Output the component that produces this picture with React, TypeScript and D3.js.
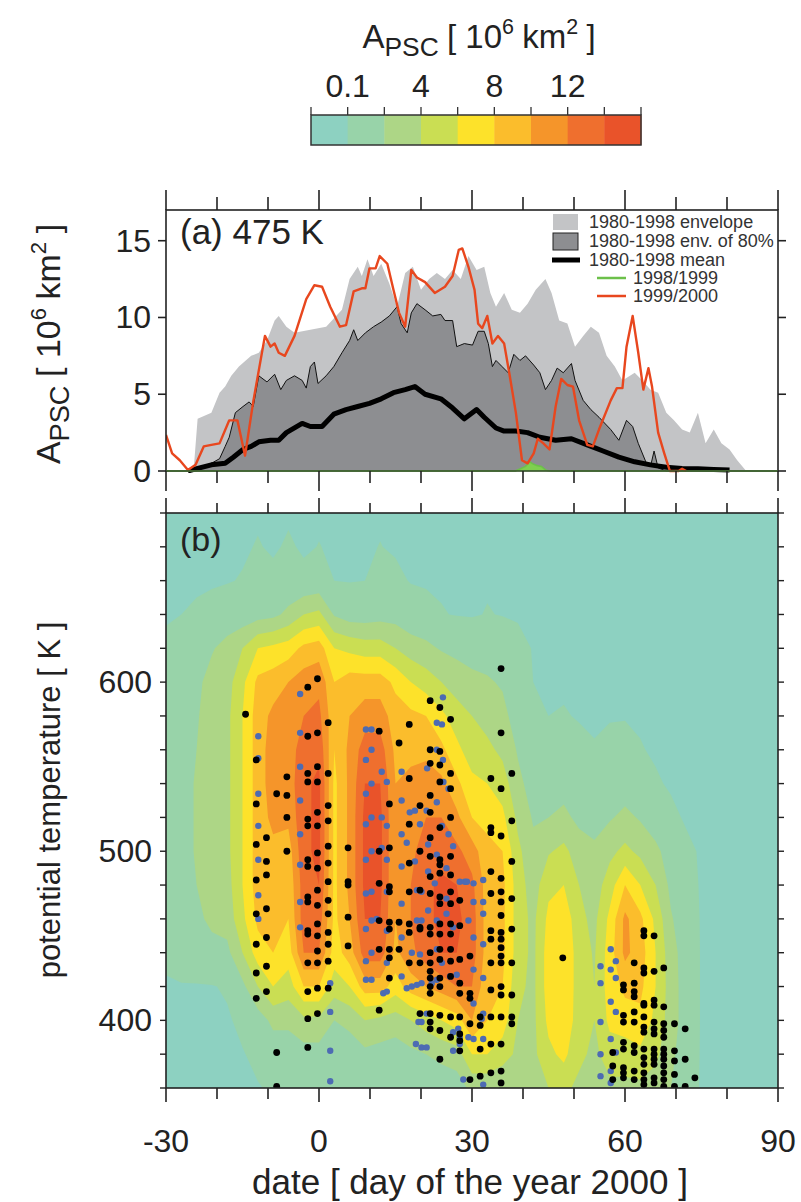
import * as d3 from 'd3';

const FONT = 'Liberation Sans, Arial, Helvetica, sans-serif';

// colour bar (A_PSC classes, 10^6 km^2)
const cbColors = ['#8dd1c1', '#98d3a9', '#add686', '#cade53', '#fde22a', '#fbbd2c', '#f5952a', '#ef6f2e', '#e9532a'];
const cbLevels = [0.1, 2, 4, 6, 8, 10, 12, 14];
const cbTickLabels = ['', '0.1', '', '4', '', '8', '', '12', '', ''];

// axes
const dayTicks = [-30, -20, -10, 0, 10, 20, 30, 40, 50, 60, 70, 80, 90];
const dayLabels = [-30, 0, 30, 60, 90];
const apscTicks = [0, 5, 10, 15];
const thetaTicks = [360, 380, 400, 420, 440, 460, 480, 500, 520, 540, 560, 580, 600, 620, 640, 660, 680, 700];
const thetaLabels = [400, 500, 600];

// panel (a) 475 K : [day, A_PSC]
const envelope = [[-30, 0], [-24.6, 0], [-23.8, 3.4], [-21.1, 3.8], [-19.5, 5.1], [-18.4, 5.5], [-17.2, 6.2], [-15.7, 6.8], [-13.3, 7.5], [-11.8, 7.7], [-10.2, 8.5], [-8.7, 9.8], [-7.9, 10.1], [-6.4, 9.4], [-4.8, 9.0], [-1.7, 9.2], [1.4, 9.4], [4.5, 10.5], [6.0, 12.5], [7.6, 13.3], [8.4, 12.7], [9.5, 13.8], [10.7, 12.7], [12.2, 13.5], [13.8, 12.2], [15.3, 10.7], [16.9, 12.9], [18.4, 13.3], [20.0, 11.8], [21.6, 12.5], [23.1, 12.9], [24.7, 12.5], [26.2, 13.1], [27.8, 12.5], [29.3, 14.0], [30.9, 13.1], [32.4, 13.3], [33.6, 11.6], [34.7, 10.7], [36.3, 11.6], [37.8, 10.5], [39.4, 10.3], [40.9, 10.9], [42.5, 11.8], [44.4, 12.5], [45.6, 11.6], [47.1, 9.8], [48.7, 9.6], [50.2, 8.1], [51.8, 8.8], [53.3, 9.4], [54.9, 9.0], [56.4, 7.5], [58.0, 6.8], [59.5, 5.9], [61.9, 6.4], [63.4, 5.9], [65.0, 5.3], [66.5, 5.1], [68.1, 3.8], [69.6, 3.3], [71.2, 2.7], [72.7, 2.5], [74.3, 3.8], [75.8, 1.8], [77.4, 2.7], [78.9, 1.8], [80.5, 1.4], [82.0, 0.7], [83.6, 0.07], [84.3, 0], [90, 0]];
const envelope80 = [[-30, 0], [-24.5, 0], [-23.4, 0.2], [-21.1, 0.5], [-19.5, 0.8], [-18.4, 1.6], [-17.6, 2.2], [-16.4, 3.8], [-14.9, 4.2], [-13.7, 4.5], [-12.9, 4.2], [-11.8, 6.2], [-10.2, 5.8], [-8.7, 6.3], [-7.5, 5.3], [-6.4, 5.9], [-4.8, 6.2], [-3.3, 5.9], [-2.5, 5.4], [-1.7, 6.8], [-0.9, 7.1], [-0.2, 5.7], [1.4, 6.2], [2.9, 6.8], [4.5, 7.7], [6.0, 8.5], [6.8, 9.2], [7.6, 8.5], [9.1, 9.0], [10.7, 9.4], [12.2, 9.7], [13.8, 10.1], [15.3, 10.7], [16.1, 9.6], [17.3, 9.0], [18.1, 10.3], [19.2, 10.9], [20.8, 10.5], [22.3, 10.1], [23.9, 10.2], [24.7, 9.8], [26.2, 9.8], [27.0, 8.1], [28.5, 8.3], [30.1, 8.2], [31.2, 9.1], [32.4, 9.1], [33.2, 8.3], [34.0, 6.8], [34.7, 7.2], [35.9, 6.8], [37.1, 6.4], [38.2, 7.6], [39.4, 7.2], [40.5, 7.5], [42.1, 6.9], [43.3, 6.4], [44.4, 5.3], [45.6, 5.9], [46.7, 6.7], [47.9, 6.4], [49.5, 7.0], [50.2, 5.9], [51.8, 4.6], [53.3, 4.0], [54.9, 3.5], [57.2, 2.7], [58.8, 2.0], [60.3, 3.3], [61.5, 2.9], [62.6, 1.8], [64.2, 0.5], [65.0, 0.3], [65.7, 1.3], [66.5, 0.2], [68.1, 0], [90, 0]];
const mean8098 = [[-25.7, 0], [-23.4, 0.2], [-21.1, 0.4], [-18.4, 0.5], [-16.8, 0.9], [-14.9, 1.4], [-13.3, 1.6], [-11.8, 1.9], [-9.5, 2.0], [-7.9, 2.0], [-6.4, 2.5], [-3.3, 3.1], [-1.7, 2.9], [0.6, 2.9], [2.9, 3.7], [5.3, 4.0], [7.6, 4.2], [9.9, 4.4], [12.2, 4.7], [14.6, 5.1], [16.9, 5.3], [18.8, 5.5], [20.8, 5.0], [23.9, 4.7], [26.2, 4.1], [28.5, 3.4], [30.9, 4.0], [32.4, 3.5], [34.7, 2.8], [36.3, 2.6], [38.6, 2.6], [40.9, 2.5], [43.3, 2.2], [46.4, 2.0], [49.5, 2.1], [52.6, 1.7], [55.7, 1.3], [58.8, 0.9], [61.9, 0.6], [65.0, 0.4], [68.1, 0.24], [71.2, 0.17], [74.3, 0.15], [77.4, 0.1], [80.5, 0.07]];
const winter9899 = [[-30, 0], [38.5, 0], [39.5, 0.15], [40.5, 0.3], [41.3, 0.6], [42, 0.45], [42.8, 0.35], [43.6, 0.3], [44.5, 0.05], [45.5, 0], [90, 0]];
const winter9900 = [[-30, 2.35], [-28.8, 1.15], [-27.3, 0.7], [-25.7, 0.07], [-24.2, 0.4], [-22.6, 1.6], [-21.1, 1.7], [-19.5, 1.8], [-17.6, 3.3], [-16.0, 3.3], [-14.5, 1.0], [-12.9, 4.5], [-10.6, 8.8], [-9.5, 8.1], [-8.7, 8.3], [-7.9, 7.7], [-6.7, 7.5], [-4.8, 8.8], [-2.5, 11.2], [-0.9, 12.1], [0.6, 12.0], [2.2, 10.7], [4.1, 9.4], [5.3, 9.5], [6.8, 11.7], [8.4, 11.9], [9.1, 11.9], [9.9, 13.2], [11.1, 13.2], [11.9, 14.0], [13.4, 13.5], [14.6, 11.8], [15.7, 10.3], [16.9, 9.4], [18.1, 13.1], [19.2, 12.6], [20.8, 12.3], [22.7, 11.6], [24.7, 12.0], [26.2, 12.7], [27.4, 14.4], [28.1, 14.5], [29.3, 13.3], [30.5, 11.8], [31.2, 9.6], [32.0, 9.3], [33.0, 10.1], [34.0, 8.3], [35.1, 8.8], [36.3, 8.3], [37.4, 6.2], [38.6, 3.8], [39.8, 0.7], [40.9, 0.5], [42.1, 1.15], [42.9, 2.1], [44.0, 1.8], [45.2, 1.4], [46.4, 4.2], [47.5, 6.0], [48.7, 5.6], [49.8, 5.5], [51.0, 3.3], [52.6, 1.7], [53.7, 1.6], [54.9, 2.7], [57.2, 4.6], [58.4, 5.4], [59.5, 5.4], [60.3, 8.1], [61.5, 10.1], [62.6, 7.7], [63.6, 5.3], [64.6, 6.7], [65.3, 5.5], [66.5, 2.5], [67.7, 1.15], [68.8, 0], [70.5, 0], [71.2, 0.15], [72, 0]];

// panel (b) : A_PSC field, one profile per day, theta from 700 K down to 360 K
const gridDays = [-30, -27, -24, -21, -18, -15, -12, -9, -6, -3, 0, 3, 6, 9, 12, 15, 18, 21, 24, 27, 30, 33, 36, 39, 42, 45, 48, 51, 54, 57, 60, 63, 66, 69, 72, 75, 78, 81, 84, 87, 90];
const gridThetas = [700, 680, 660, 640, 620, 600, 580, 560, 540, 520, 500, 480, 460, 440, 420, 400, 380, 360];
const apscByDay = [
  [0, 0, 0, 0.05, 0.2, 0.4, 0.5, 0.6, 0.8, 1, 1, 1, 0.8, 0.3, 0, 0, 0, 0],
  [0, 0, 0, 0.1, 0.5, 0.9, 1, 1, 1.2, 1.2, 1.2, 1.2, 1, 0.5, 0.05, 0, 0, 0],
  [0, 0, 0, 0.2, 1, 1.5, 1.8, 2, 2.2, 2.2, 2.2, 2, 1.5, 0.6, 0.05, 0, 0, 0],
  [0, 0, 0, 0.4, 1.8, 2.8, 3, 3, 3, 3, 3, 3, 2.5, 1.2, 0.05, 0, 0, 0],
  [0, 0, 0.05, 0.6, 2.8, 3.2, 3.5, 3.5, 3.5, 3.5, 3.5, 3.2, 2.8, 1.5, 0.2, 0, 0, 0],
  [0, 0, 0.15, 0.8, 4, 5.5, 6, 6, 6, 6, 6, 6, 5.5, 4, 1.5, 0.3, 0.05, 0],
  [0, 0.15, 0.4, 1.2, 6, 8.5, 9, 9, 9, 9, 9, 9, 8.5, 7, 4, 1, 0.3, 0.05],
  [0, 0, 0.3, 1.5, 6.5, 9, 10.5, 11, 11, 10.5, 9.5, 9, 8.5, 8, 6, 2.5, 0.8, 0.2],
  [0, 0.2, 0.5, 2.5, 7, 10, 11, 11, 11, 10.5, 9, 8.5, 8, 7, 5, 2.5, 0.8, 0.2],
  [0, 0, 0.3, 4, 8.5, 11, 12, 13, 13.5, 13.5, 13.5, 13, 13, 12, 8, 3.5, 1.2, 0.4],
  [0, 0.12, 0.5, 4.5, 9, 11.5, 12.5, 13.5, 14.5, 14.5, 14.5, 14, 13, 12, 8, 3.5, 1.2, 0.5],
  [0, 0, 0.1, 1.8, 6, 8, 8.5, 8, 7.5, 7.5, 7.5, 7.5, 7.5, 7, 5, 2, 0.8, 0.3],
  [0, 0, 0.05, 1, 5.5, 9, 10, 10.5, 10.5, 10.5, 10.5, 10.5, 10, 9, 6, 2.5, 1, 0.3],
  [0, 0, 0.1, 1, 5, 9, 11, 13, 14, 14.5, 14.5, 14.5, 14, 13, 9, 4, 1.5, 0.5],
  [0, 0.12, 0.3, 1.2, 5, 9, 11, 13, 14, 14.5, 14.5, 14.5, 14, 13, 9, 3.5, 1.2, 0.4],
  [0, 0, 0.3, 1.2, 4, 7.5, 9, 9.5, 10, 10, 10, 10, 10, 9.5, 7, 3, 1, 0.3],
  [0, 0, 0.05, 0.6, 3, 6, 8.5, 9.5, 10.5, 11, 11.5, 12, 12, 11.5, 9, 4, 1.5, 0.5],
  [0, 0, 0, 0.4, 2.5, 5, 8, 9.5, 11, 12, 13, 13.5, 13.5, 13, 10, 5, 2, 0.6],
  [0, 0, 0, 0.15, 1.8, 4, 6.5, 8.5, 10.5, 12, 13, 14.5, 14.5, 14, 11, 6, 2.5, 0.8],
  [0, 0, 0, 0.05, 1.5, 3, 5, 6.5, 8.5, 10.5, 12.5, 14, 14.5, 14, 12, 7, 3, 1],
  [0, 0, 0, 0, 1.2, 2.5, 4, 5, 6.5, 8, 11, 12.5, 13, 13, 12, 10, 6, 2.5],
  [0, 0, 0, 0.15, 1.2, 2.2, 3.2, 4.5, 6, 7.5, 8.5, 9, 9, 9, 8.5, 8, 6, 2.5],
  [0, 0, 0, 0.05, 1, 1.8, 2.5, 3.5, 5, 6.5, 8, 8.5, 8.5, 8.5, 8, 7, 5, 2],
  [0, 0, 0, 0, 0.4, 0.6, 1.2, 1.8, 2.5, 3.5, 4.5, 5, 5, 5, 4.5, 4, 3.5, 2.5],
  [0, 0, 0, 0, 0.05, 0.1, 0.3, 0.6, 1.2, 1.8, 2.5, 3, 3.5, 3.5, 3.5, 3.5, 3.5, 3],
  [0, 0, 0, 0, 0, 0, 0.1, 0.4, 1, 2, 3.8, 5.5, 6.5, 7, 7, 6.5, 5.5, 4],
  [0, 0, 0, 0, 0, 0, 0.15, 0.6, 1.2, 2.5, 4.5, 6, 7.5, 7.8, 7.8, 7.5, 6.5, 4.5],
  [0, 0, 0, 0, 0, 0, 0.05, 0.3, 0.6, 1.5, 3, 4, 4.5, 5, 5, 5, 4.5, 3.5],
  [0, 0, 0, 0, 0, 0, 0, 0.15, 0.4, 1, 2.5, 3, 3.5, 3.8, 4, 4, 3.5, 3],
  [0, 0, 0, 0, 0, 0, 0.05, 0.3, 0.8, 1.8, 3.5, 5, 6.5, 7, 7, 6.5, 5, 3.5],
  [0, 0, 0, 0, 0, 0, 0.05, 0.4, 1, 2.5, 4.5, 8, 10.5, 10.5, 8.5, 7, 5, 3.5],
  [0, 0, 0, 0, 0, 0, 0, 0.15, 0.6, 1.8, 3.5, 6, 8.5, 9, 8.5, 7.5, 5.5, 3.5],
  [0, 0, 0, 0, 0, 0, 0, 0, 0.2, 0.8, 2.5, 4, 5.5, 6, 6, 5.5, 4.5, 3],
  [0, 0, 0, 0, 0, 0, 0, 0, 0, 0.3, 1, 1.5, 2.2, 2.8, 3, 3, 2.5, 2],
  [0, 0, 0, 0, 0, 0, 0, 0, 0, 0, 0.3, 0.5, 0.8, 1, 1, 1, 0.8, 0.6],
  [0, 0, 0, 0, 0, 0, 0, 0, 0, 0, 0, 0, 0, 0, 0, 0, 0, 0],
  [0, 0, 0, 0, 0, 0, 0, 0, 0, 0, 0, 0, 0, 0, 0, 0, 0, 0],
  [0, 0, 0, 0, 0, 0, 0, 0, 0, 0, 0, 0, 0, 0, 0, 0, 0, 0],
  [0, 0, 0, 0, 0, 0, 0, 0, 0, 0, 0, 0, 0, 0, 0, 0, 0, 0],
  [0, 0, 0, 0, 0, 0, 0, 0, 0, 0, 0, 0, 0, 0, 0, 0, 0, 0],
  [0, 0, 0, 0, 0, 0, 0, 0, 0, 0, 0, 0, 0, 0, 0, 0, 0, 0],
];

// observations: [day, thetas]
const blackObs = [
  [-14.4, [581]],
  [-12.3, [554, 528, 504, 483, 463, 445, 428, 413]],
  [-10.3, [508, 494, 486, 466, 449, 432, 417]],
  [-8.3, [534, 381, 361]],
  [-6.3, [544, 533, 520, 500]],
  [-2.2, [597, 568, 546, 541, 519, 515, 495, 491, 473, 470, 453, 451, 434, 417, 401, 384]],
  [-0.3, [602, 570, 550, 541, 523, 515, 499, 490, 477, 468, 457, 450, 441, 434, 419, 404]],
  [1.8, [576, 546, 527, 518, 503, 493, 482, 471, 463, 452, 445, 435, 419]],
  [5.7, [502, 482, 480, 461, 444]],
  [11.8, [571, 500, 481, 459, 442, 406]],
  [13.8, [528, 502, 479, 476, 458, 454, 442, 437, 425]],
  [15.7, [564, 458, 442]],
  [17.7, [575, 543, 516, 493, 476, 457, 452, 434]],
  [19.8, [527, 500, 477, 455, 454, 434, 404]],
  [21.8, [589, 560, 552, 533, 523, 508, 497, 485, 475, 455, 451, 440, 434, 429, 425, 420, 416, 404, 399, 395]],
  [23.7, [585, 559, 551, 541, 514, 495, 492, 487, 473, 469, 457, 451, 442, 436, 425, 420, 403, 394, 377]],
  [25.8, [578, 546, 537, 520, 497, 486, 476, 469, 457, 451, 442, 435, 426, 402, 390]],
  [27.6, [471, 456, 436, 422, 416, 402, 392, 388, 382]],
  [29.6, [438, 416, 413, 398, 365]],
  [31.6, [402, 397, 383, 367]],
  [33.7, [543, 514, 511, 488, 475, 453, 448, 434, 418, 402, 386, 369]],
  [35.7, [608, 570, 537, 509, 484, 476, 470, 462, 452, 448, 443, 438, 434, 420, 415, 402, 386, 370, 363]],
  [37.8, [546, 518, 494, 472, 454, 434, 415, 402, 398]],
  [47.8, [437]],
  [57.6, [381, 373, 365]],
  [59.7, [421, 418, 403, 399, 387, 383, 372, 369, 366]],
  [61.8, [434, 422, 417, 414, 405, 399, 385, 381, 370, 365]],
  [63.7, [453, 450, 431, 428, 410, 409, 402, 396, 393, 383, 378, 374, 369, 365, 362]],
  [65.7, [450, 429, 412, 409, 399, 395, 392, 383, 380, 377, 374, 366, 363]],
  [67.6, [431, 408, 398, 394, 390, 383, 380, 377, 373, 369, 365, 361]],
  [69.7, [398, 382, 376, 368, 361]],
  [71.8, [395, 377, 361]],
  [73.7, [366]],
];
const blueObs = [
  [-11.9, [568, 555, 534, 515, 495, 474, 460]],
  [-3.7, [593, 570, 550, 530, 510, 492, 470, 455]],
  [2.2, [422, 405, 382, 364]],
  [9.2, [572, 554, 534, 516, 495, 475, 454, 435, 424]],
  [10.3, [572, 560, 540, 520, 500, 476, 459, 440, 424]],
  [11.3, [460]],
  [12.3, [547, 520, 502]],
  [12.6, [416]],
  [13.3, [541, 515, 495, 476, 453, 434, 417]],
  [16.2, [547, 530, 510, 491, 469, 449, 426]],
  [17.2, [505, 419]],
  [17.8, [523]],
  [18.2, [440, 420]],
  [18.8, [524, 494]],
  [19.0, [386]],
  [19.2, [477, 459, 421]],
  [19.5, [399]],
  [19.8, [516, 439]],
  [20.1, [476, 459, 422, 399, 384]],
  [21.1, [524, 404, 384]],
  [21.2, [549]],
  [21.4, [504, 488, 465]],
  [22.1, [422]],
  [22.7, [481]],
  [23.1, [576, 560, 529, 498, 459, 442, 424]],
  [24.1, [575, 515, 434]],
  [24.3, [591, 554]],
  [24.4, [541]],
  [25.0, [490, 472, 463]],
  [25.4, [537, 510]],
  [25.7, [426]],
  [26.3, [503, 455, 393, 382]],
  [27.0, [427]],
  [27.3, [395]],
  [27.6, [482, 390, 386]],
  [28.3, [365]],
  [28.6, [482]],
  [29.0, [482]],
  [29.3, [459, 390]],
  [30.3, [481, 470, 449, 430, 410, 389]],
  [31.9, [401]],
  [32.2, [483, 470, 463, 445, 425, 404, 389, 362]],
  [55.2, [432, 422, 399, 380, 367]],
  [57.2, [442, 430, 411, 389, 370, 363]],
  [58.2, [435, 425, 405, 381]],
];

function ApscTitle({ size }) {
  const sub = size * 0.8;
  const sup = size * 0.65;
  const gap = size * 0.25;
  return (
    <text textAnchor="middle" fontSize={size} fill="#222" fontFamily={FONT}>
      A
      <tspan fontSize={sub} dy={size * 0.25}>PSC</tspan>
      <tspan dy={-size * 0.25} dx={gap}>[ 10</tspan>
      <tspan fontSize={sup} dy={-size * 0.42}>6</tspan>
      <tspan dy={size * 0.42} dx={gap}>km</tspan>
      <tspan fontSize={sup} dy={-size * 0.42}>2</tspan>
      <tspan dy={size * 0.42} dx={gap}>]</tspan>
    </text>
  );
}

export default function App() {
  const W = 801;
  const H = 1202;
  const x = d3.scaleLinear().domain([-30, 90]).range([166, 778]);
  const ya = d3.scaleLinear().domain([0, 17]).range([471, 210]);
  const yb = d3.scaleLinear().domain([360, 700]).range([1088, 513]);

  // panel a shapes
  const area = d3.area().x(d => x(d[0])).y0(ya(0)).y1(d => ya(d[1]));
  const line = d3.line().x(d => x(d[0])).y(d => ya(d[1]));

  // panel b filled contours
  const nx = gridDays.length;
  const ny = gridThetas.length;
  const values = new Array(nx * ny);
  for (let j = 0; j < ny; j++) {
    for (let i = 0; i < nx; i++) values[j * nx + i] = apscByDay[i][j];
  }
  const bands = d3.contours().size([nx, ny]).thresholds(cbLevels)(values);
  const dDay = gridDays[1] - gridDays[0];
  const dTh = gridThetas[0] - gridThetas[1];
  const proj = d3.geoTransform({
    point: function (px, py) {
      this.stream.point(x(gridDays[0] + (px - 0.5) * dDay), yb(gridThetas[0] - (py - 0.5) * dTh));
    },
  });
  const geo = d3.geoPath(proj);

  // colour bar
  const cb = d3.scaleLinear().domain([0, cbColors.length]).range([311, 641]);

  const axisColor = '#222';

  return (
    <svg width={W} height={H} style={{ position: 'absolute', left: 0, top: 0 }} fontFamily={FONT}>
      <defs>
        <clipPath id="clipA"><rect x={166} y={205} width={612} height={268} /></clipPath>
        <clipPath id="clipB"><rect x={166} y={513} width={612} height={575} /></clipPath>
      </defs>
      <rect width={W} height={H} fill="#fff" />

      {/* colour bar */}
      <g transform="translate(479,48)"><ApscTitle size={33} /></g>
      {cbColors.map((c, i) => (
        <rect key={c} x={cb(i)} y={115} width={cb(i + 1) - cb(i) + 0.5} height={30} fill={c} />
      ))}
      <rect x={311} y={115} width={330} height={30} fill="none" stroke="#333" strokeWidth={1.5} />
      {cbTickLabels.map((t, i) => (
        <g key={'cbt' + i}>
          <line x1={cb(i)} x2={cb(i)} y1={107} y2={115} stroke="#333" strokeWidth={1.3} />
          {t && <text x={cb(i)} y={97} textAnchor="middle" fontSize={32} fill="#222">{t}</text>}
        </g>
      ))}

      {/* panel a */}
      <g clipPath="url(#clipA)">
        <path d={area(envelope)} fill="#c3c4c6" />
        <path d={area(envelope80)} fill="#8d8e91" />
        <path d={line(envelope80)} fill="none" stroke="#111" strokeWidth={1} />
        <path d={line(mean8098)} fill="none" stroke="#000" strokeWidth={5} strokeLinejoin="round" />
        <path d={area(winter9899)} fill="#7fcf4f" />
        <path d={line(winter9899)} fill="none" stroke="#6cc04a" strokeWidth={1.6} />
        <path d={line(winter9900)} fill="none" stroke="#e8471e" strokeWidth={2.4} strokeLinejoin="round" />
      </g>
      <rect x={166} y={210} width={612} height={261} fill="none" stroke={axisColor} strokeWidth={1.6} />
      <line x1={166} x2={778} y1={471} y2={471} stroke="#6cc04a" strokeWidth={1} opacity={0.6} />
      {dayTicks.map(d => {
        const major = dayLabels.includes(d);
        return (
          <g key={'ta' + d} stroke={axisColor} strokeWidth={1.6}>
            <line x1={x(d)} x2={x(d)} y1={210} y2={210 - (major ? 20 : 13)} />
            <line x1={x(d)} x2={x(d)} y1={471} y2={471 + (major ? 20 : 12)} />
            <line x1={x(d)} x2={x(d)} y1={513} y2={513 - (major ? 15 : 10)} />
            <line x1={x(d)} x2={x(d)} y1={1088} y2={1088 + (major ? 14 : 11)} />
          </g>
        );
      })}
      {apscTicks.map(v => (
        <g key={'ya' + v}>
          <line x1={158} x2={166} y1={ya(v)} y2={ya(v)} stroke={axisColor} strokeWidth={1.6} />
          <line x1={778} x2={786} y1={ya(v)} y2={ya(v)} stroke={axisColor} strokeWidth={1.6} />
          <text x={151} y={ya(v) + 11} textAnchor="end" fontSize={32} fill="#222">{v}</text>
        </g>
      ))}
      <g transform="translate(60,344) rotate(-90)"><ApscTitle size={34} /></g>
      <text x={180} y={244} fontSize={35} fill="#222">(a) 475 K</text>

      {/* legend */}
      <g fontSize={18} fill="#333">
        <rect x={553} y={214} width={25} height={16} fill="#c3c4c6" />
        <text x={589} y={228}>1980-1998 envelope</text>
        <rect x={553} y={233} width={25} height={17} fill="#8d8e91" stroke="#222" strokeWidth={1} />
        <text x={589} y={247}>1980-1998 env. of 80%</text>
        <line x1={552} x2={580} y1={260} y2={260} stroke="#000" strokeWidth={5} />
        <text x={589} y={266}>1980-1998 mean</text>
        <line x1={597} x2={626} y1={278} y2={278} stroke="#6cc04a" strokeWidth={2.5} />
        <text x={633} y={284}>1998/1999</text>
        <line x1={597} x2={626} y1={296} y2={296} stroke="#e8471e" strokeWidth={2.5} />
        <text x={633} y={302}>1999/2000</text>
      </g>

      {/* panel b */}
      <g clipPath="url(#clipB)">
        <rect x={166} y={513} width={612} height={575} fill={cbColors[0]} />
        {bands.map((b, i) => (
          <path key={'band' + i} d={geo(b)} fill={cbColors[i + 1]} />
        ))}
        {blueObs.flatMap(([d, ths]) => ths.map(t => (
          <circle key={'bl' + d + '_' + t} cx={x(d)} cy={yb(t)} r={3.2} fill="#4d6bb3" />
        )))}
        {blackObs.flatMap(([d, ths]) => ths.map(t => (
          <circle key={'bk' + d + '_' + t} cx={x(d)} cy={yb(t)} r={3.4} fill="#000" />
        )))}
      </g>
      <rect x={166} y={513} width={612} height={575} fill="none" stroke={axisColor} strokeWidth={1.6} />
      {thetaTicks.map(t => (
        <g key={'yb' + t} stroke={axisColor} strokeWidth={1.4}>
          <line x1={160} x2={166} y1={yb(t)} y2={yb(t)} />
          <line x1={778} x2={784} y1={yb(t)} y2={yb(t)} />
        </g>
      ))}
      {thetaLabels.map(t => (
        <text key={'ybl' + t} x={152} y={yb(t) + 11} textAnchor="end" fontSize={32} fill="#222">{t}</text>
      ))}
      {dayLabels.map(d => (
        <text key={'xl' + d} x={x(d)} y={1152} textAnchor="middle" fontSize={32} fill="#222">{d}</text>
      ))}
      <text x={470} y={1194} textAnchor="middle" fontSize={35} fill="#222">date [ day of the year 2000 ]</text>
      <text transform="translate(60,800) rotate(-90)" textAnchor="middle" fontSize={31} fill="#222">potential temperature [ K ]</text>
      <text x={180} y={551} fontSize={34} fill="#222">(b)</text>
    </svg>
  );
}
